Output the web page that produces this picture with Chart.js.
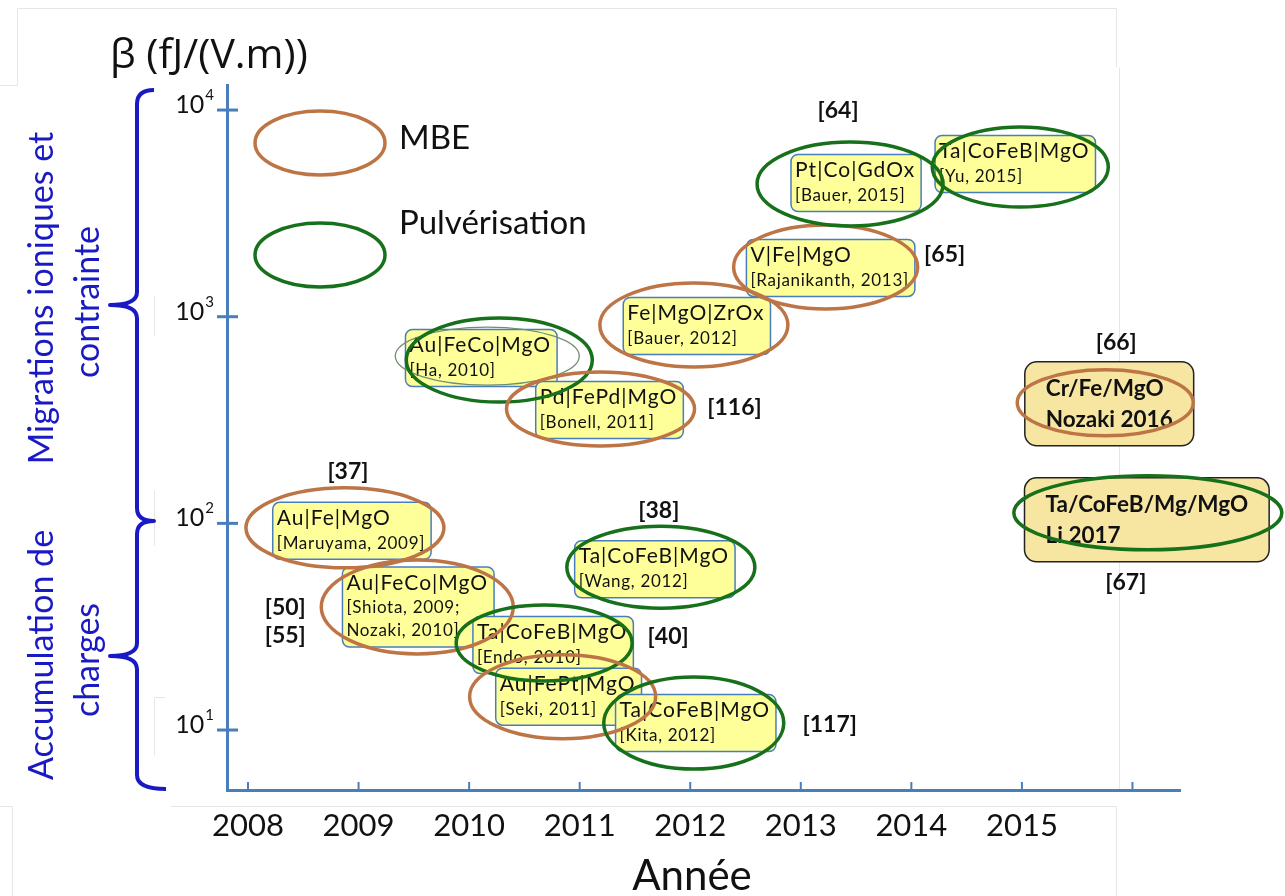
<!DOCTYPE html>
<html>
<head>
<meta charset="utf-8">
<script src="https://cdn.jsdelivr.net/npm/chart.js@4.4.1/dist/chart.umd.min.js"></script>
<style>
	html, body { margin: 0; padding: 0; background: #fff; }
	canvas { display: block; }
</style>
</head>
<body>
<canvas id="graficoBeta" width="1285" height="896"></canvas>
<script>
// Donnees
const materiaux = ["Au|Fe|MgO", "Au|FeCo|MgO", "Ta|CoFeB|MgO", "Au|FePt|MgO", "Ta|CoFeB|MgO",
                   "Ta|CoFeB|MgO", "Au|FeCo|MgO", "Pd|FePd|MgO", "Fe|MgO|ZrOx", "V|Fe|MgO",
                   "Pt|Co|GdOx", "Ta|CoFeB|MgO", "Cr/Fe/MgO", "Ta/CoFeB/Mg/MgO"];
const auteurs = ["[Maruyama, 2009]", "[Shiota, 2009;\nNozaki, 2010]", "[Endo, 2010]", "[Seki, 2011]", "[Kita, 2012]",
                 "[Wang, 2012]", "[Ha, 2010]", "[Bonell, 2011]", "[Bauer, 2012]", "[Rajanikanth, 2013]",
                 "[Bauer, 2015]", "[Yu, 2015]", "Nozaki 2016", "Li 2017"];
const annees = [2008.94, 2009.54, 2010.76, 2010.90, 2012.05, 2011.68, 2010.11, 2011.27, 2012.06, 2013.27,
                2013.50, 2014.94, 2015.79, 2016.13];
const beta = [92, 39.4, 25.8, 14.5, 10.8, 60, 631, 354, 902, 1722, 4436, 5483, 379, 104];
const methodes = ["MBE", "MBE", "Pulvérisation", "MBE", "Pulvérisation", "Pulvérisation", "Pulvérisation",
                  "MBE", "MBE", "MBE", "Pulvérisation", "Pulvérisation", "MBE", "Pulvérisation"];
const references = ["[37]", "[50]\n[55]", "[40]", "", "[117]", "[38]", "", "[116]", "", "[65]",
                    "[64]", "", "[66]", "[67]"];
const anneesAxe = [2008, 2009, 2010, 2011, 2012, 2013, 2014, 2015];
const decades = [10, 100, 1000, 10000];
const legende = ["MBE", "Pulvérisation"];

// Mise en page (pixels) : anneaux [dx, dy, rx, ry], position des references [dx, dy]
const anneau = [[-7,-3,99,40], [-1,0,96,47], [-9,-2,88,38], [-6,0,93,42], [-2,0,90,46],
                [6,-2,94,41], [18,2,93,42], [-9,-1,94,37], [-3,-1,94,42], [-5,-1,92,42],
                [-6,1,93,42], [5,3,88,40], [-4,-1,88,33], [1,-7,134,37]];
const posRef = [[-4,-59], [-133,1], [115,-8], [0,0], [134,1], [4,-59], [0,0], [125,-2], [0,0],
                [114,-13], [-18,-72], [0,0], [7,-61], [-21,63]];
const encadreRecent = [false, false, false, false, false, false, false, false, false, false,
                       false, false, true, true];

const couleurs = { "MBE": "#bd7546", "Pulvérisation": "#17701a" };
const bleuAxe = "#4a7ebb";
const bleuAccolade = "#1a1ac4";
const police = "Lato, 'Open Sans', sans-serif";

function ellipse(ctx, x, y, rx, ry, couleur, largeur){
	ctx.beginPath();
	ctx.ellipse(x, y, rx, ry, 0, 0, Math.PI * 2);
	ctx.strokeStyle = couleur;
	ctx.lineWidth = largeur;
	ctx.stroke();
}

const dessinFigure = {
	id: "dessinFigure",
	beforeDraw(chart){
		const ctx = chart.ctx;
		ctx.save();
		ctx.fillStyle = "#fff";
		ctx.fillRect(0, 0, chart.width, chart.height);
		// traits gris clairs de la diapositive
		ctx.strokeStyle = "#e6e6e6";
		ctx.lineWidth = 1;
		[[17,8,1116,8], [17,8,17,85], [0,85,17,85], [1116,8,1116,67], [1119,67,1119,790],
		 [170,806,1116,806], [0,806,12,806], [12,806,12,896], [154,296,154,335], [154,490,154,545],
		 [154,697,154,755], [154,697,165,697], [1116,806,1116,896]].forEach(l => {
			ctx.beginPath();
			ctx.moveTo(l[0] + 0.5, l[1] + 0.5);
			ctx.lineTo(l[2] + 0.5, l[3] + 0.5);
			ctx.stroke();
		});
		ctx.restore();
	},
	afterDraw(chart){
		const ctx = chart.ctx;
		const sx = chart.scales.x;
		const sy = chart.scales.y;
		const meta = chart.getDatasetMeta(0);
		ctx.save();

		// graduations
		ctx.strokeStyle = bleuAxe;
		ctx.lineWidth = 3;
		decades.forEach(v => {
			const y = sy.getPixelForValue(v);
			ctx.beginPath();
			ctx.moveTo(217, y);
			ctx.lineTo(238, y);
			ctx.stroke();
		});
		ctx.lineWidth = 2;
		sx.ticks.forEach(t => {
			const x = sx.getPixelForValue(t.value);
			ctx.beginPath();
			ctx.moveTo(x, sy.bottom);
			ctx.lineTo(x, sy.bottom - 8);
			ctx.stroke();
		});

		// etiquettes 10^n
		ctx.fillStyle = "#111";
		ctx.textBaseline = "alphabetic";
		decades.forEach(v => {
			const y = sy.getPixelForValue(v);
			const n = String(Math.round(Math.log10(v)));
			ctx.font = "15px " + police;
			const we = ctx.measureText(n).width;
			ctx.textAlign = "right";
			ctx.fillText(n, 214, y - 10);
			ctx.font = "25px " + police;
			ctx.fillText("10", 214 - we - 1, y + 3);
		});

		// titre et axe
		ctx.textAlign = "left";
		ctx.textBaseline = "middle";
		ctx.font = "41px 'Open Sans', Lato, sans-serif";
		ctx.fillText("β (fJ/(V.m))", 110, 56);
		ctx.textAlign = "center";
		ctx.font = "42px " + police;
		ctx.fillText("Année", 692, 876);

		// accolades
		ctx.strokeStyle = bleuAccolade;
		ctx.lineWidth = 4;
		ctx.lineJoin = "round";
		ctx.beginPath();
		ctx.moveTo(154, 90);
		ctx.quadraticCurveTo(137, 90, 137, 104);
		ctx.lineTo(137, 292);
		ctx.quadraticCurveTo(137, 305, 110, 305);
		ctx.quadraticCurveTo(137, 305, 137, 318);
		ctx.lineTo(137, 508);
		ctx.quadraticCurveTo(137, 521, 154, 521);
		ctx.quadraticCurveTo(137, 521, 137, 534);
		ctx.lineTo(137, 643);
		ctx.quadraticCurveTo(137, 656, 110, 656);
		ctx.quadraticCurveTo(137, 656, 137, 669);
		ctx.lineTo(137, 775);
		ctx.quadraticCurveTo(137, 789, 166, 789);
		ctx.stroke();

		ctx.fillStyle = bleuAccolade;
		ctx.font = "34px " + police;
		[["Migrations ioniques et", 42, 298], ["contrainte", 88, 302],
		 ["Accumulation de", 42, 655], ["charges", 88, 660]].forEach(t => {
			ctx.save();
			ctx.translate(t[1], t[2]);
			ctx.rotate(-Math.PI / 2);
			ctx.fillText(t[0], 0, 0);
			ctx.restore();
		});

		// legende
		legende.forEach((m, i) => {
			const y = 143 + i * 112;
			ellipse(ctx, 320, y, 65, 32, couleurs[m], 3.5);
			ctx.fillStyle = "#111";
			ctx.textAlign = "left";
			ctx.font = "33px " + police;
			ctx.fillText(m, 399, y - 5 - i * 27);
		});

		// encadres
		const boites = meta.data.map((pt, i) => {
			const lignes = auteurs[i].split("\n");
			let w, h;
			if(encadreRecent[i]){
				ctx.font = "bold 22.5px " + police;
				ctx.letterSpacing = "0px";
				w = Math.max(ctx.measureText(materiaux[i]).width, ctx.measureText(lignes[0]).width) + 42;
				h = 84;
			}
			else{
				ctx.font = "21px " + police;
				ctx.letterSpacing = "1px";
				let wm = ctx.measureText(materiaux[i]).width;
				ctx.font = "17px " + police;
				ctx.letterSpacing = "0.7px";
				lignes.forEach(l => { wm = Math.max(wm, ctx.measureText(l).width); });
				w = wm + 10;
				h = 34 + 23 * lignes.length;
			}
			return { x: pt.x - w / 2, y: pt.y - h / 2, w: w, h: h, cx: pt.x, cy: pt.y, lignes: lignes };
		});

		boites.forEach((b, i) => {
			ctx.beginPath();
			ctx.roundRect(b.x, b.y, b.w, b.h, encadreRecent[i] ? 12 : 7);
			ctx.fillStyle = encadreRecent[i] ? "#f6e6a2" : "#ffff99";
			ctx.fill();
			ctx.strokeStyle = encadreRecent[i] ? "#222" : bleuAxe;
			ctx.lineWidth = 1.5;
			ctx.stroke();

			ctx.fillStyle = "#111";
			ctx.textAlign = "left";
			ctx.textBaseline = "middle";
			if(encadreRecent[i]){
				ctx.font = "bold 22.5px " + police;
				ctx.letterSpacing = "0px";
				ctx.fillText(materiaux[i], b.x + 21, b.y + 27);
				ctx.fillText(b.lignes[0], b.x + 21, b.y + 58);
			}
			else{
				ctx.font = "21px " + police;
				ctx.letterSpacing = "1px";
				ctx.fillText(materiaux[i], b.x + 4, b.y + 16);
				ctx.font = "17px " + police;
				ctx.letterSpacing = "0.7px";
				b.lignes.forEach((l, k) => ctx.fillText(l, b.x + 4, b.y + 41 + 23 * k));
			}
		});
		ctx.letterSpacing = "0px";

		// anneaux
		boites.forEach((b, i) => {
			const a = anneau[i];
			if(i === 6){
				ellipse(ctx, b.cx + 6, b.cy - 2, 92, 29, "#6f8f6f", 1.3);
			}
			ellipse(ctx, b.cx + a[0], b.cy + a[1], a[2], a[3], couleurs[methodes[i]], 3.5);
		});

		// references
		ctx.fillStyle = "#111";
		ctx.textAlign = "center";
		ctx.textBaseline = "middle";
		ctx.font = "bold 23px " + police;
		boites.forEach((b, i) => {
			if(!references[i]) return;
			references[i].split("\n").forEach((r, k) => {
				ctx.fillText(r, b.cx + posRef[i][0], b.cy + posRef[i][1] + 28 * k);
			});
		});

		ctx.restore();
	}
};

new Chart("graficoBeta", {
	type: "scatter",
	data: {
		datasets: [{
			data: annees.map((a, i) => ({ x: a, y: beta[i] })),
			pointRadius: 0,
			pointHoverRadius: 0
		}]
	},
	options: {
		responsive: false,
		animation: false,
		devicePixelRatio: 1,
		events: [],
		layout: { padding: { left: 0, right: 105, top: 85, bottom: 0 } },
		plugins: { legend: { display: false }, tooltip: { enabled: false } },
		scales: {
			x: {
				type: "linear",
				min: 2007.81,
				max: 2016.43,
				afterBuildTicks: s => { s.ticks = anneesAxe.concat([2016]).map(v => ({ value: v })); },
				afterFit: s => { s.height = 106; },
				grid: { display: false, drawTicks: false },
				border: { display: true, color: bleuAxe, width: 3 },
				ticks: {
					padding: 17,
					color: "#111",
					font: { family: police, size: 31 },
					callback: v => anneesAxe.includes(v) ? String(v) : ""
				}
			},
			y: {
				type: "logarithmic",
				min: 5.126,
				max: 13220,
				afterBuildTicks: s => { s.ticks = decades.map(v => ({ value: v })); },
				afterFit: s => { s.width = 227; },
				grid: { display: false, drawTicks: false },
				border: { display: true, color: bleuAxe, width: 3 },
				ticks: { display: false }
			}
		}
	},
	plugins: [dessinFigure]
});
</script>
</body>
</html>
